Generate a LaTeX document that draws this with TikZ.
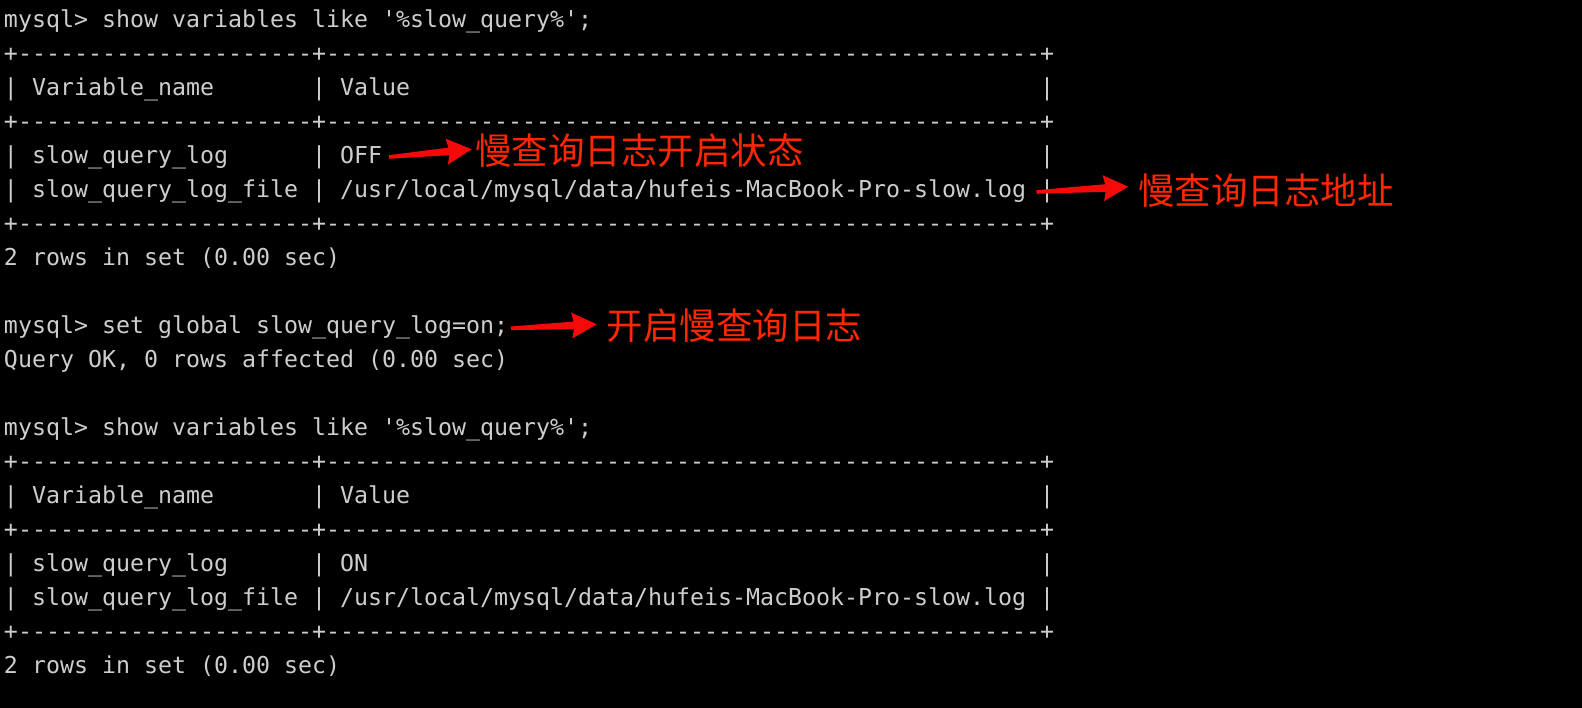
\documentclass[tikz,border=0pt]{standalone}
\usepackage{fontspec}
\newfontfamily\term{DejaVu Sans Mono}
\newfontfamily\cjk{Noto Sans CJK SC}
\usetikzlibrary{calc}
\definecolor{termgray}{RGB}{205,205,205}
\definecolor{notered}{RGB}{255,38,0}
\definecolor{arrowred}{RGB}{245,10,10}
\ExplSyntaxOn
\NewDocumentCommand\reps{mm}{\prg_replicate:nn{#1}{#2}}
\ExplSyntaxOff
\newcommand\sepline{+\reps{21}{-}+\reps{51}{-}+}
\tikzset{
  term/.style={anchor=base west, inner sep=0pt, outer sep=0pt,
    font=\term\fontsize{23.26}{34}\selectfont, text=termgray},
  lbl/.style={anchor=base west, inner sep=0pt, outer sep=0pt,
    font=\cjk\fontsize{36.5}{40}\selectfont, text=notered},
  taperfill/.style={fill=arrowred}
}
\newcommand\T[4]{\node[term] (#1) at ({4+14*#2},{27.5+34*#3}) {#4};}
\newcommand\trow[4]{%
  \T{#1a}{0}{#2}{|}\T{#1b}{2}{#2}{#3}\T{#1c}{22}{#2}{|}%
  \T{#1d}{24}{#2}{#4}\T{#1e}{74}{#2}{|}}
\newcommand\taper[2]{%
  \fill[taperfill]
    ($(#1)!1.8pt!90:(#2)$) --
    ($(#2)!23pt!(#1)!3.8pt!-90:(#1)$) --
    ($(#2)!25pt!(#1)!13pt!-90:(#1)$) --
    (#2) --
    ($(#2)!25pt!(#1)!13pt!90:(#1)$) --
    ($(#2)!23pt!(#1)!3.8pt!90:(#1)$) --
    ($(#1)!1.8pt!-90:(#2)$) -- cycle;}
\begin{document}
\begin{tikzpicture}[x=1pt,y=-1pt]
\fill[black] (0,0) rectangle (1582,708);
\useasboundingbox (0,0) rectangle (1582,708);
% first query
\T{q1}{0}{0}{mysql> show variables like '\%slow\_query\%';}
\T{s1}{0}{1}{\sepline}
\trow{h1}{2}{Variable\_name}{Value}
\T{s2}{0}{3}{\sepline}
\trow{r1}{4}{slow\_query\_log}{OFF}
\trow{r2}{5}{slow\_query\_log\_file}{/usr/local/mysql/data/hufeis-MacBook-Pro-slow.log}
\T{s3}{0}{6}{\sepline}
\T{n1}{0}{7}{2 rows in set (0.00 sec)}
% set
\T{q2}{0}{9}{mysql> set global slow\_query\_log=on;}
\T{ok}{0}{10}{Query OK, 0 rows affected (0.00 sec)}
% second query
\T{q3}{0}{12}{mysql> show variables like '\%slow\_query\%';}
\T{s4}{0}{13}{\sepline}
\trow{h2}{14}{Variable\_name}{Value}
\T{s5}{0}{15}{\sepline}
\trow{r3}{16}{slow\_query\_log}{ON}
\trow{r4}{17}{slow\_query\_log\_file}{/usr/local/mysql/data/hufeis-MacBook-Pro-slow.log}
\T{s6}{0}{18}{\sepline}
\T{n2}{0}{19}{2 rows in set (0.00 sec)}
% annotations
\node[lbl] (l1) at (475,165) {慢查询日志开启状态};
\node[lbl] (l2) at (1138,205) {慢查询日志地址};
\node[lbl] (l3) at (606.5,340) {开启慢查询日志};
\coordinate (a1s) at (389,157);
\coordinate (a1e) at (471.7,149.3);
\coordinate (a2s) at (1036.5,192);
\coordinate (a2e) at (1128.3,186.7);
\coordinate (a3s) at (511,328.3);
\coordinate (a3e) at (596.7,324.3);
\taper{a1s}{a1e}
\taper{a2s}{a2e}
\taper{a3s}{a3e}
\end{tikzpicture}
\end{document}
